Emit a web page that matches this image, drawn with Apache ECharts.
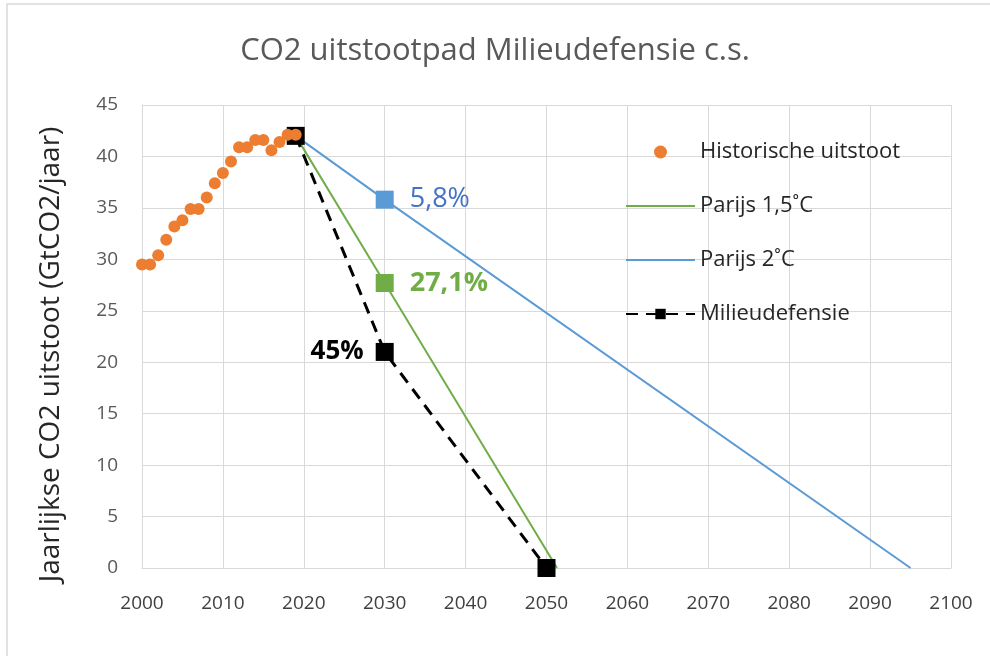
<!DOCTYPE html>
<html>
<head>
<meta charset="utf-8">
<script src="https://cdn.jsdelivr.net/npm/echarts@6/dist/echarts.min.js"></script>
<style>
  html, body { margin: 0; padding: 0; background: #fff; }
  #chart { width: 990px; height: 656px; }
</style>
</head>
<body>
<div id="chart"></div>
<script>
// historische uitstoot (GtCO2/jaar)
const years = [2000, 2001, 2002, 2003, 2004, 2005, 2006, 2007, 2008, 2009,
  2010, 2011, 2012, 2013, 2014, 2015, 2016, 2017, 2018, 2019]
const historic = [29.5, 29.5, 30.4, 31.9, 33.2, 33.8, 34.9, 34.9, 36.0, 37.4,
  38.4, 39.5, 40.9, 40.9, 41.6, 41.6, 40.6, 41.4, 42.1, 42.1]

// paden: [jaar, uitstoot]
const parijs15 = [[2019, 42], [2030, 27.7], [2051.3, 0]]
const parijs2 = [[2019, 42], [2030, 35.8], [2095, 0]]
const milieudefensie = [[2019, 42], [2030, 21], [2050, 0]]

const labels = { parijs15: '27,1%', parijs2: '5,8%', milieudefensie: '45%' }

const FONT = '"Open Sans", sans-serif'
const chart = echarts.init(document.getElementById('chart'))

// alleen het punt in 2030 krijgt een vierkantje + label
function markMid(path, color, label, labelOpt) {
  return path.map((p, i) => i !== 1 ? p : {
    value: p,
    symbol: 'rect',
    symbolSize: 18,
    itemStyle: { color: color },
    label: Object.assign({
      show: true,
      formatter: label,
      fontFamily: FONT,
      fontSize: 27,
      color: color
    }, labelOpt)
  })
}

chart.setOption({
  animation: false,
  title: {
    text: 'CO2 uitstootpad Milieudefensie c.s.',
    left: 'center',
    top: 31,
    textStyle: { fontFamily: FONT, fontSize: 31, fontWeight: 'normal', color: '#595959' }
  },
  graphic: [{
    type: 'rect',
    shape: { x: 7, y: 4, width: 1000, height: 700 },
    style: { fill: 'none', stroke: '#d9d9d9', lineWidth: 1.5 },
    silent: true
  }],
  legend: {
    orient: 'vertical',
    left: 620,
    top: 136,
    itemWidth: 69,
    itemHeight: 13,
    itemGap: 32,
    data: [
      'Historische uitstoot',
      { name: 'Parijs 1,5˚C', itemStyle: { opacity: 0 } },
      { name: 'Parijs 2˚C', itemStyle: { opacity: 0 } },
      'Milieudefensie'
    ],
    textStyle: { fontFamily: FONT, fontSize: 22, color: '#262626' }
  },
  grid: { left: 142, right: 39, top: 105, bottom: 88 },
  xAxis: {
    type: 'value',
    min: 2000, max: 2100, interval: 10,
    axisLine: { show: true, lineStyle: { color: '#d9d9d9' } },
    axisTick: { show: false },
    splitLine: { lineStyle: { color: '#d9d9d9' } },
    axisLabel: {
      margin: 26, fontFamily: FONT, fontSize: 19, color: '#404040',
      formatter: v => String(v)
    }
  },
  yAxis: {
    type: 'value',
    min: 0, max: 45, interval: 5,
    name: 'Jaarlijkse CO2 uitstoot (GtCO2/jaar)',
    nameLocation: 'middle',
    nameGap: 77,
    nameTextStyle: { fontFamily: FONT, fontSize: 28, color: '#262626', padding: [0, 36, 0, 0] },
    axisLine: { show: true, lineStyle: { color: '#d9d9d9' } },
    axisTick: { show: false },
    splitLine: { lineStyle: { color: '#d9d9d9' } },
    axisLabel: { margin: 24, fontFamily: FONT, fontSize: 19, color: '#595959' }
  },
  series: [
    {
      name: 'Parijs 2˚C',
      type: 'line',
      symbol: 'none',
      lineStyle: { color: '#5b9bd5', width: 2 },
      itemStyle: { color: '#5b9bd5' },
      data: markMid(parijs2, '#5b9bd5', labels.parijs2, { position: 'right', distance: 16, color: '#4472c4' })
    },
    {
      name: 'Parijs 1,5˚C',
      type: 'line',
      symbol: 'none',
      lineStyle: { color: '#70ad47', width: 2 },
      itemStyle: { color: '#70ad47' },
      data: markMid(parijs15, '#70ad47', labels.parijs15, { position: 'right', distance: 16, fontWeight: 'bold' })
    },
    {
      name: 'Milieudefensie',
      type: 'line',
      symbol: 'rect',
      symbolSize: 18,
      lineStyle: { color: '#000', width: 3, type: [12, 8] },
      itemStyle: { color: '#000' },
      data: milieudefensie.map((p, i) => i !== 1 ? p : {
        value: p,
        label: {
          show: true, formatter: labels.milieudefensie, position: 'left', distance: 12,
          fontFamily: FONT, fontSize: 26, fontWeight: 'bold', color: '#000'
        }
      })
    },
    {
      name: 'Historische uitstoot',
      type: 'scatter',
      symbol: 'circle',
      symbolSize: 12,
      itemStyle: { color: '#ed7d31', opacity: 1 },
      z: 5,
      data: years.map((y, i) => [y, historic[i]])
    }
  ]
})
</script>
</body>
</html>
